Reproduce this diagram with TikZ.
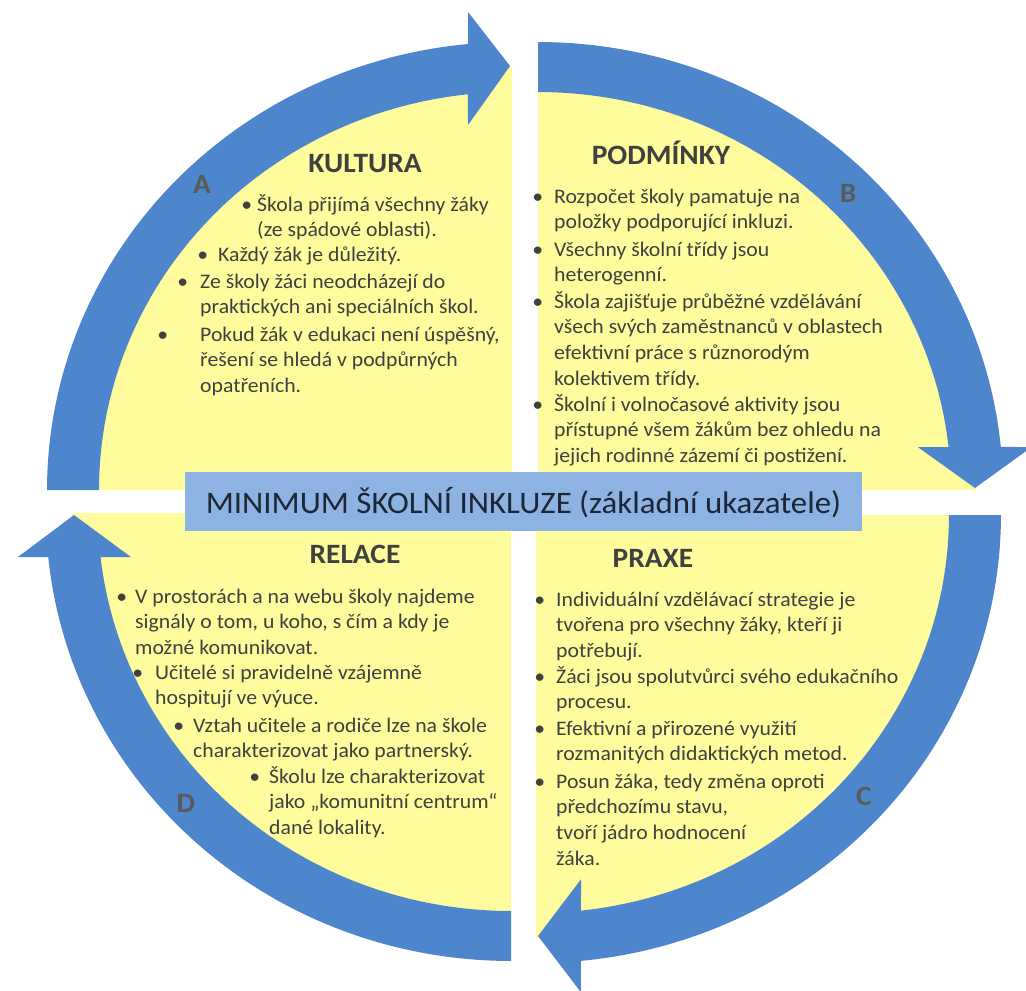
\documentclass[tikz,border=0pt]{standalone}
\usepackage{fontspec}
\setmainfont{Carlito}[FakeStretch=1.05]
\definecolor{arrowblue}{HTML}{4E86CD}
\definecolor{quadyellow}{HTML}{FEFC9C}
\definecolor{boxblue}{HTML}{8DB3E2}
\definecolor{txtgray}{HTML}{404040}
\definecolor{lettergray}{HTML}{5A5A5A}
\definecolor{boxtext}{HTML}{1D2635}
\newcommand\bdot[1]{\makebox[0pt][r]{\textbullet\hspace{#1pt}}}
\begin{document}
\begin{tikzpicture}[x=1pt,y=-1pt,
  body/.style={anchor=base west, align=left, inner sep=0pt, text=txtgray, font={\fontsize{20.7}{25.7}\selectfont}},
  heading/.style={anchor=base, inner sep=0pt, text=txtgray, font={\fontsize{28}{32}\selectfont\bfseries}},
  letter/.style={anchor=base, inner sep=0pt, text=lettergray, font={\fontsize{28}{32}\selectfont\bfseries}},
  band/.style={fill=arrowblue},
  quad/.style={fill=quadyellow}]
\useasboundingbox (0,0) rectangle (1026,991);
\clip (0,0) rectangle (1026,991);
% yellow quadrants
\fill[quad] (512,490) -- plot[domain=180:90,samples=60] ({512+439*cos(\x)},{490-423*sin(\x)}) -- cycle;
\fill[quad] (538,490) -- plot[domain=90:0,samples=60] ({538+439*cos(\x)},{490-423*sin(\x)}) -- cycle;
\fill[quad] (536,515) -- plot[domain=0:-90,samples=60] ({536+439*cos(\x)},{515-423*sin(\x)}) -- cycle;
\fill[quad] (511,513) -- plot[domain=-90:-180,samples=60] ({511+439*cos(\x)},{513-423*sin(\x)}) -- cycle;
% A
\fill[band] plot[domain=180:95.43,samples=80] ({512+465*cos(\x)},{490-448*sin(\x)}) -- (468,12) -- (510,66) -- (468,125) -- plot[domain=96.12:180,samples=80] ({512+413*cos(\x)},{490-398*sin(\x)}) -- cycle;
% B
\fill[band] plot[domain=90:5.51,samples=80] ({538+465*cos(\x)},{490-448*sin(\x)}) -- (1031.7,447) -- (975,488) -- (917.7,447) -- plot[domain=6.20:90,samples=80] ({538+413*cos(\x)},{490-398*sin(\x)}) -- cycle;
% C
\fill[band] plot[domain=0:-84.45,samples=80] ({536+465*cos(\x)},{515-448*sin(\x)}) -- (581,992.3) -- (538,936) -- (581,879.3) -- plot[domain=-83.745:0,samples=80] ({536+413*cos(\x)},{515-398*sin(\x)}) -- cycle;
% D
\fill[band] plot[domain=-90:-174.36,samples=80] ({511+465*cos(\x)},{513-448*sin(\x)}) -- (17.9,557) -- (74,515) -- (130.9,557) -- plot[domain=-173.65:-90,samples=80] ({511+413*cos(\x)},{513-398*sin(\x)}) -- cycle;
% centre box
\node[fill=boxblue, minimum width=677pt, minimum height=59pt, inner sep=0pt] (box) at (523.5,501.5) {};
\node[anchor=base, inner sep=0pt, text=boxtext, font={\fontsize{31.3}{36}\selectfont}] (boxlabel) at (523.5,513) {MINIMUM ŠKOLNÍ INKLUZE (základní ukazatele)};
% headings
\node[heading] (kultura) at (365,172) {KULTURA};
\node[heading] (podminky) at (661,164) {PODMÍNKY};
\node[heading] (relace) at (355,563) {RELACE};
\node[heading] (praxe) at (653,567) {PRAXE};
% letters
\node[letter] (la) at (202,193) {A};
\node[letter] (lb) at (848,202) {B};
\node[letter] (lc) at (864,805) {C};
\node[letter] (ld) at (186,812) {D};
% KULTURA (node base = last line baseline)
\node[body] (k1) at (257,236.7) {\bdot{5}Škola přijímá všechny žáky\\(ze spádové oblasti).};
\node[body] (k2) at (218,261) {\bdot{10}Každý žák je důležitý.};
\node[body] (k3) at (200,313.7) {\bdot{12}Ze školy žáci neodcházejí do\\praktických ani speciálních škol.};
\node[body] (k4) at (200,392.4) {\bdot{32}Pokud žák v edukaci není úspěšný,\\řešení se hledá v podpůrných\\opatřeních.};
% PODMINKY
\node[body] (p1) at (554,228.7) {\bdot{11}Rozpočet školy pamatuje na\\položky podporující inkluzi.};
\node[body] (p2) at (554,281.7) {\bdot{11}Všechny školní třídy jsou\\heterogenní.};
\node[body] (p3) at (554,385.1) {\bdot{11}Škola zajišťuje průběžné vzdělávání\\všech svých zaměstnanců v oblastech\\efektivní práce s různorodým\\kolektivem třídy.};
\node[body] (p4) at (554,462.4) {\bdot{11}Školní i volnočasové aktivity jsou\\přístupné všem žákům bez ohledu na\\jejich rodinné zázemí či postižení.};
% RELACE
\node[body] (r1) at (135,654.4) {\bdot{8}V prostorách a na webu školy najdeme\\signály o tom, u koho, s čím a kdy je\\možné komunikovat.};
\node[body] (r2) at (155,704.7) {\bdot{12}Učitelé si pravidelně vzájemně\\hospitují ve výuce.};
\node[body] (r3) at (193,757.7) {\bdot{9}Vztah učitele a rodiče lze na škole\\charakterizovat jako partnerský.};
\node[body] (r4) at (269,834.4) {\bdot{9}Školu lze charakterizovat\\jako „komunitní centrum“\\dané lokality.};
% PRAXE
\node[body] (x1) at (556,657.4) {\bdot{11}Individuální vzdělávací strategie je\\tvořena pro všechny žáky, kteří ji\\potřebují.};
\node[body] (x2) at (556,708.7) {\bdot{11}Žáci jsou spolutvůrci svého edukačního\\procesu.};
\node[body] (x3) at (556,760.7) {\bdot{11}Efektivní a přirozené využití\\rozmanitých didaktických metod.};
\node[body] (x4) at (556,865.1) {\bdot{11}Posun žáka, tedy změna oproti\\předchozímu stavu,\\tvoří jádro hodnocení\\žáka.};
\end{tikzpicture}
\end{document}
